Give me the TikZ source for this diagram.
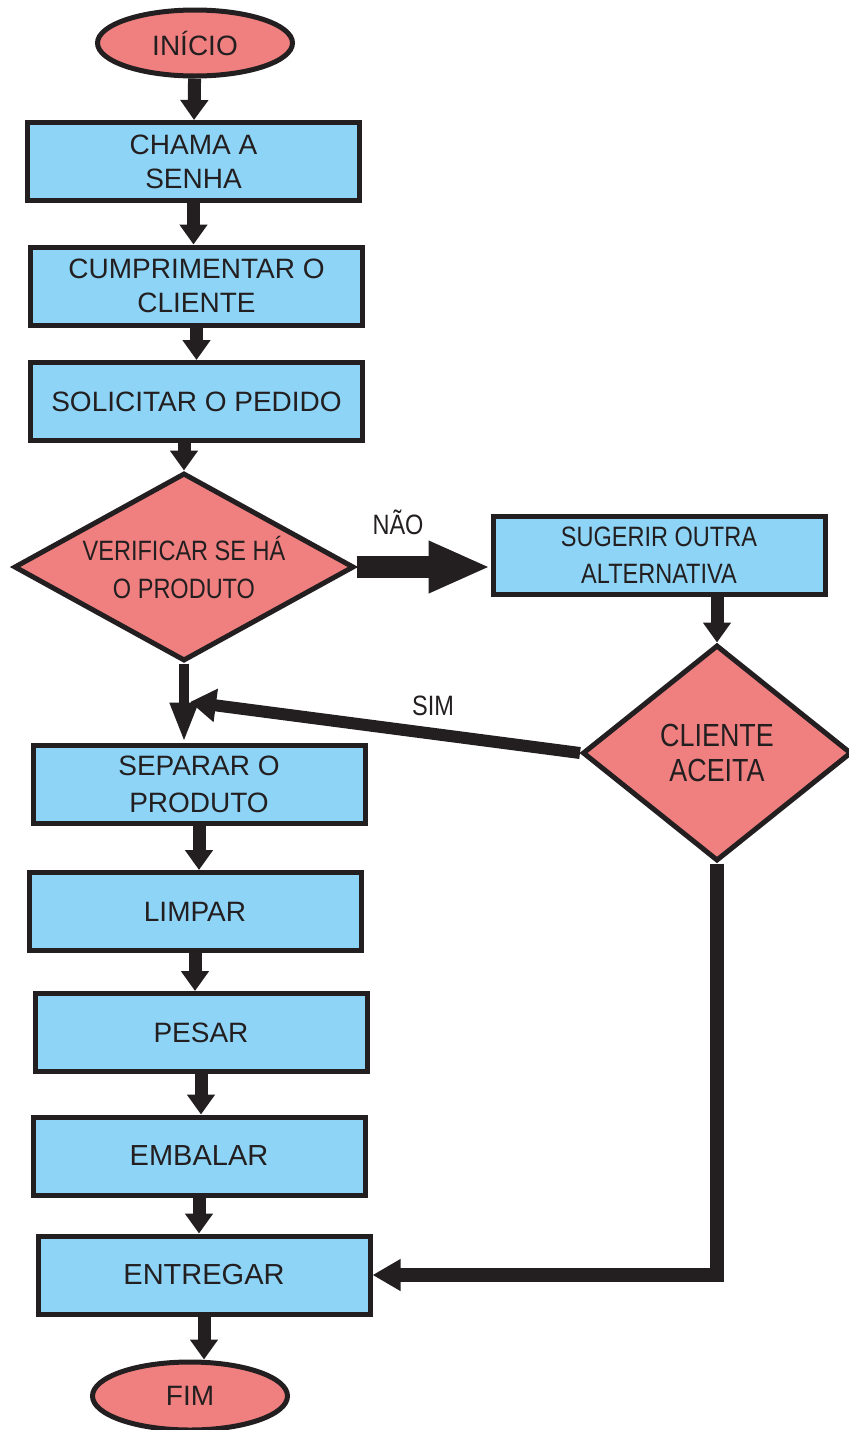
\documentclass[tikz,border=0pt]{standalone}
\usepackage{fontspec}
\setmainfont{Liberation Sans}
\newfontfamily\estreita[FakeStretch=0.84]{Liberation Sans}
\usetikzlibrary{shapes.geometric, arrows.meta}
\definecolor{azul}{RGB}{141,212,246}
\definecolor{salmao}{RGB}{240,128,128}
\definecolor{contorno}{RGB}{35,31,32}
\tikzstyle{caixa}=[rectangle, draw=contorno, line width=2.5pt, fill=azul, text=contorno, minimum width=166pt, minimum height=39pt, inner sep=2pt, align=center, font=\fontsize{14}{17}\selectfont]
\tikzstyle{losango}=[diamond, draw=contorno, line width=2.5pt, fill=salmao, text=contorno, inner sep=0pt, aspect=1.8, align=center]
\tikzstyle{terminal}=[ellipse, draw=contorno, line width=2.5pt, fill=salmao, text=contorno, minimum width=97.5pt, minimum height=33pt, inner sep=0pt, font=\fontsize{14}{17}\selectfont]
\tikzstyle{seta}=[draw=contorno, line width=6.5pt, -{Triangle[width=13.5pt, length=10pt]}]
\tikzstyle{rotulo}=[text=contorno, font=\estreita\fontsize{14}{17}\selectfont]

\begin{document}
\begin{tikzpicture}[x=0.5pt, y=-0.5pt]
  \useasboundingbox (0,0) rectangle (849,1430);
  \node[terminal] (inicio) at (195,43) {INÍCIO};
  \node[caixa] (chama) at (193.5,161.5) {CHAMA A\\SENHA};
  \node[caixa] (cumpr) at (196.5,286) {CUMPRIMENTAR O\\CLIENTE};
  \node[caixa] (solic) at (196.5,401.5) {SOLICITAR O PEDIDO};
  \node[losango, minimum width=170pt, minimum height=94pt, font=\estreita\fontsize{14}{19}\selectfont] (verif) at (184,567) {VERIFICAR SE HÁ\\O PRODUTO};
  \node[caixa, font=\estreita\fontsize{14}{18.5}\selectfont] (suger) at (659,555) {SUGERIR OUTRA\\ALTERNATIVA};
  \node[losango, minimum width=134.5pt, minimum height=108pt, font=\estreita\fontsize{16}{17.5}\selectfont] (client) at (717,753) {CLIENTE\\ACEITA};
  \node[caixa, font=\fontsize{14}{18.5}\selectfont] (separ) at (199,784) {SEPARAR O\\PRODUTO};
  \node[caixa] (limpar) at (195,911.5) {LIMPAR};
  \node[caixa] (pesar) at (201,1032.5) {PESAR};
  \node[caixa, font=\fontsize{14.5}{17}\selectfont] (embalar) at (199,1156) {EMBALAR};
  \node[caixa, font=\fontsize{14.5}{17}\selectfont] (entregar) at (204,1275) {ENTREGAR};
  \node[terminal, minimum height=34pt] (fim) at (190,1396) {FIM};
  \node[rotulo] (nao) at (398,522) {NÃO};
  \node[rotulo] (sim) at (433,706) {SIM};
  \coordinate (encontro) at (190,702);

  \draw[seta] (inicio) -- (chama);
  \foreach \a/\b in {chama/cumpr, cumpr/solic, separ/limpar, limpar/pesar, pesar/embalar, embalar/entregar, entregar/fim}
    \draw[seta] (\a.south) -- (\a.south |- \b.north);
  \draw[seta] (verif.north |- solic.south) -- (verif.north);
  \draw[seta, line width=5pt, -{Triangle[width=13pt, length=20pt]}] (verif.south) -- (verif.south |- separ.north);
  \draw[seta, line width=11pt, -{Triangle[width=24pt, length=31pt]}] (verif.east) -- (verif.east -| suger.west);
  \draw[seta] (client.north |- suger.south) -- (client.north);
  \draw[seta, line width=6pt, -{Triangle[width=16pt, length=13pt]}] (client.west) -- (encontro);
  \draw[seta, line width=7pt, -{Triangle[width=15pt, length=14pt]}] (client.south) |- (entregar.east);
\end{tikzpicture}
\end{document}
